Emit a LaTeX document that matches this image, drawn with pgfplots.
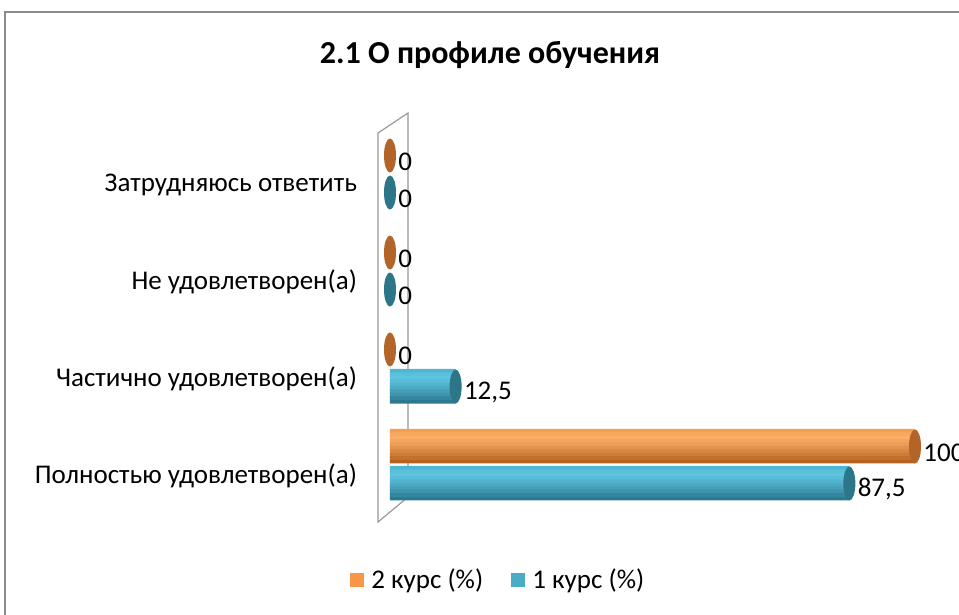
\documentclass[border=0pt]{standalone}
\usepackage{fontspec}
\setmainfont{Carlito}
\usepackage{pgfplots}
\usepackage{pgfplotstable}
\pgfplotsset{compat=1.18}
\usetikzlibrary{shapes.geometric}
\definecolor{orA}{HTML}{F79646}
\definecolor{orTop}{HTML}{F39444}
\definecolor{orMid}{HTML}{FBAE66}
\definecolor{orBot}{HTML}{B5621E}
\definecolor{orCap}{HTML}{B36428}
\definecolor{blA}{HTML}{4BACC6}
\definecolor{blTop}{HTML}{47AAC5}
\definecolor{blMid}{HTML}{5EC5E1}
\definecolor{blBot}{HTML}{2C7A90}
\definecolor{blCap}{HTML}{2D7589}
\definecolor{frameg}{HTML}{8A8A8A}
\colorlet{b0}{blMid!40!blTop}
\colorlet{b1}{blMid!80!blTop}
\colorlet{b2}{blMid}
\colorlet{b3}{blMid!90!blBot}
\colorlet{b4}{blMid!78!blBot}
\colorlet{b5}{blMid!65!blBot}
\colorlet{b6}{blMid!50!blBot}
\colorlet{b7}{blMid!35!blBot}
\colorlet{b8}{blMid!18!blBot}
\colorlet{b9}{blBot}
\colorlet{o0}{orMid!40!orTop}
\colorlet{o1}{orMid!80!orTop}
\colorlet{o2}{orMid}
\colorlet{o3}{orMid!90!orBot}
\colorlet{o4}{orMid!78!orBot}
\colorlet{o5}{orMid!65!orBot}
\colorlet{o6}{orMid!50!orBot}
\colorlet{o7}{orMid!35!orBot}
\colorlet{o8}{orMid!18!orBot}
\colorlet{o9}{orBot}
\pgfplotstableread{
y second first
0 100 87.5
1 0 12.5
2 0 0
3 0 0
}\data
\newcommand{\lbl}{\fontsize{13.5}{16}\selectfont}
\newcommand{\band}[3]{\addplot[xbar, bar width=2.3pt, bar shift=#1pt, draw=none, fill=#2, forget plot] table[x=#3, y=y] {\data};}
\begin{document}
\begin{tikzpicture}
\useasboundingbox (0,0) rectangle (479.5pt,307.5pt);
\draw[frameg, line width=0.8pt] (2.5pt,-1pt) -- (2.5pt,301.5pt) -- (481pt,301.5pt);
\node[font=\bfseries\fontsize{16}{19}\selectfont] at (245pt,280pt) {2.1 О профиле обучения};
% back wall
\draw[gray!80, line width=0.6pt, fill=white] (189pt,46.5pt) -- (189pt,241pt) -- (204pt,251pt) -- (204pt,59pt) -- cycle;
\begin{axis}[
  at={(195pt,50.75pt)}, anchor=south west,
  scale only axis, width=262.5pt, height=194pt,
  xmin=0, xmax=100, ymin=-0.5, ymax=3.5,
  axis line style={draw=none},
  xtick=\empty,
  ytick={0,1,2,3},
  yticklabels={Полностью удовлетворен(а),Частично удовлетворен(а),Не удовлетворен(а),Затрудняюсь ответить},
  major tick length=0pt,
  yticklabel style={font=\lbl, xshift=-13pt, yshift=-5.5pt},
  xbar, bar width=17pt,
  clip=false,
  legend style={at={(0.208,-0.171)}, anchor=center, draw=none, font=\lbl,
    legend columns=2, /tikz/every even column/.append style={column sep=12pt}},
  legend cell align=left,
  /pgf/number format/use comma,
  /pgf/number format/assume math mode=true,
]
% 1 курс (blue) cylinder bands, top to bottom
\band{-1.6}{b0}{first}
\band{-3.3}{b1}{first}
\band{-5.0}{b2}{first}
\band{-6.7}{b3}{first}
\band{-8.4}{b4}{first}
\band{-10.1}{b5}{first}
\band{-11.8}{b6}{first}
\band{-13.5}{b7}{first}
\band{-15.2}{b8}{first}
\addplot[xbar, bar width=1.7pt, bar shift=-16.9pt, draw=none, fill=b9, forget plot] table[x=first, y=y] {\data};
% 2 курс (orange) cylinder bands
\band{16.9}{o0}{second}
\band{15.2}{o1}{second}
\band{13.5}{o2}{second}
\band{11.8}{o3}{second}
\band{10.1}{o4}{second}
\band{8.4}{o5}{second}
\band{6.7}{o6}{second}
\band{5.0}{o7}{second}
\band{3.3}{o8}{second}
\addplot[xbar, bar width=1.7pt, bar shift=1.6pt, draw=none, fill=o9, forget plot] table[x=second, y=y] {\data};
% end caps
\addplot[xbar, bar shift=-9.25pt, draw=none, fill=none,
  nodes near coords={},
  every node near coord/.append style={shape=ellipse, fill=blCap, minimum width=6pt, minimum height=17pt, inner sep=0pt, anchor=center},
  forget plot]
  table[x=first, y=y] {\data};
\addplot[xbar, bar shift=9.25pt, draw=none, fill=none,
  nodes near coords={},
  every node near coord/.append style={shape=ellipse, fill=orCap, minimum width=6pt, minimum height=17pt, inner sep=0pt, anchor=center},
  forget plot]
  table[x=second, y=y] {\data};
% value labels
\addplot[xbar, bar shift=-9.25pt, draw=none, fill=none, nodes near coords,
  every node near coord/.append style={font=\lbl, anchor=west, xshift=3pt, yshift=-3pt, inner sep=1pt}, forget plot]
  table[x=first, y=y] {\data};
\addplot[xbar, bar shift=9.25pt, draw=none, fill=none, nodes near coords,
  every node near coord/.append style={font=\lbl, anchor=west, xshift=3pt, yshift=-3pt, inner sep=1pt}, forget plot]
  table[x=second, y=y] {\data};
% legend entries
\addlegendimage{legend image code/.code={\fill[orA] (0pt,-3.3pt) rectangle (6.6pt,3.3pt); \path[draw=none,fill=none] (0pt,0pt) -- (8.4pt,0pt);}}
\addlegendentry{2 курс (\%)}
\addlegendimage{legend image code/.code={\fill[blA] (0pt,-3.3pt) rectangle (6.6pt,3.3pt); \path[draw=none,fill=none] (0pt,0pt) -- (8.4pt,0pt);}}
\addlegendentry{1 курс (\%)}
\end{axis}
\end{tikzpicture}
\end{document}
